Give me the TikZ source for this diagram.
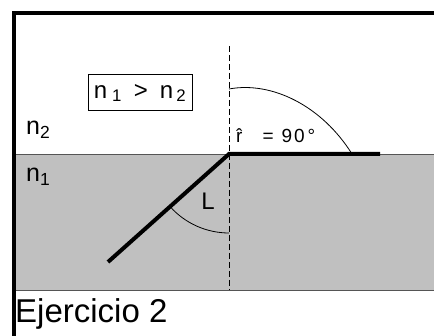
\documentclass[tikz,border=0pt]{standalone}
\usepackage{fontspec}
\setmainfont{Liberation Sans}
\usepackage{tikz}
\usepackage{xcolor}
\usetikzlibrary{positioning, calc}
\definecolor{cMedium}   {HTML}{C0C0C0}
\definecolor{cEdge}     {HTML}{555555}
\definecolor{cInk}      {HTML}{000000}
\newcommand{\rhatsym}{{\ooalign{r\cr\hidewidth\char"02C6\hidewidth\cr}}}

\begin{document}
\begin{tikzpicture}[x=1pt, y=1pt,
    ray/.style={draw=cInk, line width=4pt},
    frameline/.style={draw=cInk, line width=4pt},
    normalline/.style={draw=cInk, line width=1pt, dash pattern=on 6pt off 3pt},
    anglearc/.style={draw=cInk, line width=0.8pt},
    lbl/.style={inner sep=0pt, text=cInk},
  ]
  \useasboundingbox (0,0) rectangle (434,336);
  % medium n1
  \fill[cMedium] (15,46) rectangle (434,182);
  \draw[cEdge, line width=0.9pt] (15,182) -- (434,182);
  \draw[cEdge, line width=0.9pt] (15,46) -- (434,46);
  % frame
  \draw[frameline] (14,0) -- (14,323) -- (434,323);
  % points
  \coordinate (O) at (229,182);
  \coordinate (top) at (229,290);
  \coordinate (bot) at (229,46);
  \coordinate (inc) at (108,74);
  \coordinate (refr) at (380,182);
  \coordinate (arcA) at (229,247);
  \coordinate (arcB) at (352,182);
  % normal
  \draw[normalline] (top) -- (bot);
  % rays
  \draw[ray] (inc) -- (O) -- (refr);
  % angles
  \draw[anglearc] (arcA) .. controls (272,255) and (322,230) .. (arcB);
  \draw[anglearc] (O) ++(270:79) arc[start angle=270, end angle=222, radius=79];
  % labels
  \node[lbl, font=\fontsize{24}{28}\selectfont] (Lbl) at (208,134.5) {L};
  \node[lbl, anchor=base west, font=\fontsize{19}{22}\selectfont] (rlbl) at (236,193)
    {\rhatsym\hspace{20pt}=\hspace{8pt}9\hspace{2pt}0\hspace{3pt}°};
  \node[lbl, anchor=base west, font=\fontsize{25}{28}\selectfont] (n2) at (26,201)
    {n\textsubscript{2}};
  \node[lbl, anchor=base west, font=\fontsize{25}{28}\selectfont] (n1) at (26,154)
    {n\textsubscript{1}};
  \node[draw=cInk, line width=1pt, minimum width=104pt, minimum height=36pt,
    inner sep=0pt, font=\fontsize{24}{28}\selectfont] (cond) at (140,243)
    {n\hspace{5pt}\textsubscript{1}\hspace{12pt}>\hspace{12pt}n\hspace{3pt}\textsubscript{2}};
  \node[lbl, anchor=base west, font=\fontsize{33}{38}\selectfont] (title) at (15,13)
    {Ejercicio 2};
\end{tikzpicture}
\end{document}
